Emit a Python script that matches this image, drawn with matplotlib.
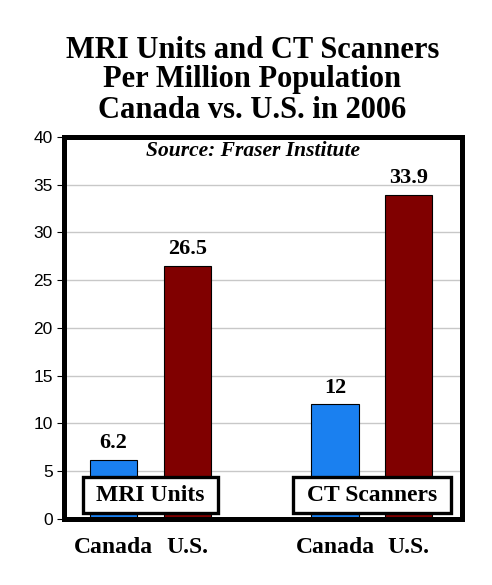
import matplotlib
matplotlib.use("Agg")
import matplotlib.pyplot as plt
from matplotlib.patches import Rectangle

groups = ["MRI Units", "CT Scanners"]
countries = ["Canada", "U.S."]
canada = [6.2, 12]
us = [26.5, 33.9]
value_labels_canada = ["6.2", "12"]
value_labels_us = ["26.5", "33.9"]
yticks = [0, 5, 10, 15, 20, 25, 30, 35, 40]
title_lines = ["MRI Units and CT Scanners", "Per Million Population", "Canada vs. U.S. in 2006"]

SERIF = ["Liberation Serif", "DejaVu Serif"]
blue = "#1a80f0"
red = "#800000"

fig = plt.figure(figsize=(4.92, 5.85), dpi=100)
ax = fig.add_axes([0.130, 0.113, 0.809, 0.653])

group_pos = [0.5, 3.5]
xc = [g - 0.5 for g in group_pos]
xu = [g + 0.5 for g in group_pos]
w = 0.64

ax.bar(xc, canada, width=w, color=blue, edgecolor="black", linewidth=0.8, zorder=2)
ax.bar(xu, us, width=w, color=red, edgecolor="black", linewidth=0.8, zorder=2)

for x, v, s in zip(xc, canada, value_labels_canada):
    ax.text(x, v + 0.7, s, ha="center", va="bottom", fontsize=16, fontweight="bold", family=SERIF, zorder=3)
for x, v, s in zip(xu, us, value_labels_us):
    ax.text(x, v + 0.7, s, ha="center", va="bottom", fontsize=16, fontweight="bold", family=SERIF, zorder=3)

ax.set_xlim(-0.67, 4.72)
ax.set_ylim(0, 40)
ax.set_yticks(yticks)
ax.tick_params(axis="y", labelsize=12.5, length=5, width=0.8, pad=3)
for lab in ax.get_yticklabels():
    lab.set_family(["Liberation Sans", "DejaVu Sans"])
ax.yaxis.grid(True, color="#c8c8c8", linewidth=1.0, zorder=0)
ax.set_axisbelow(True)

ax.set_xticks(xc + xu)
ax.set_xticklabels([countries[0]] * 2 + [countries[1]] * 2)
ax.tick_params(axis="x", length=0, pad=13)
for lab in ax.get_xticklabels():
    lab.set_family(SERIF)
    lab.set_fontweight("bold")
    lab.set_fontsize(17)

for sp in ax.spines.values():
    sp.set_linewidth(3.6)
    sp.set_color("black")

# group label boxes
box_w = [1.83, 2.14]
for g, name, bw in zip(group_pos, groups, box_w):
    ax.add_patch(Rectangle((g - bw / 2, 0.63), bw, 3.77, facecolor="white",
                           edgecolor="black", linewidth=2.4, zorder=4))
    ax.text(g, 2.5, name, ha="center", va="center", fontsize=17, fontweight="bold",
            family=SERIF, zorder=5)

ax.text(0.475, 0.988, "Source: Fraser Institute", transform=ax.transAxes, ha="center", va="top",
        fontsize=15.5, fontweight="bold", style="italic", family=SERIF)

for i, line in enumerate(title_lines):
    fig.text(0.513, 1 - (50 + 30 * i) / 585, line, ha="center", va="center",
             fontsize=22, fontweight="bold", family=SERIF)

fig.savefig("out.png", dpi=100)
